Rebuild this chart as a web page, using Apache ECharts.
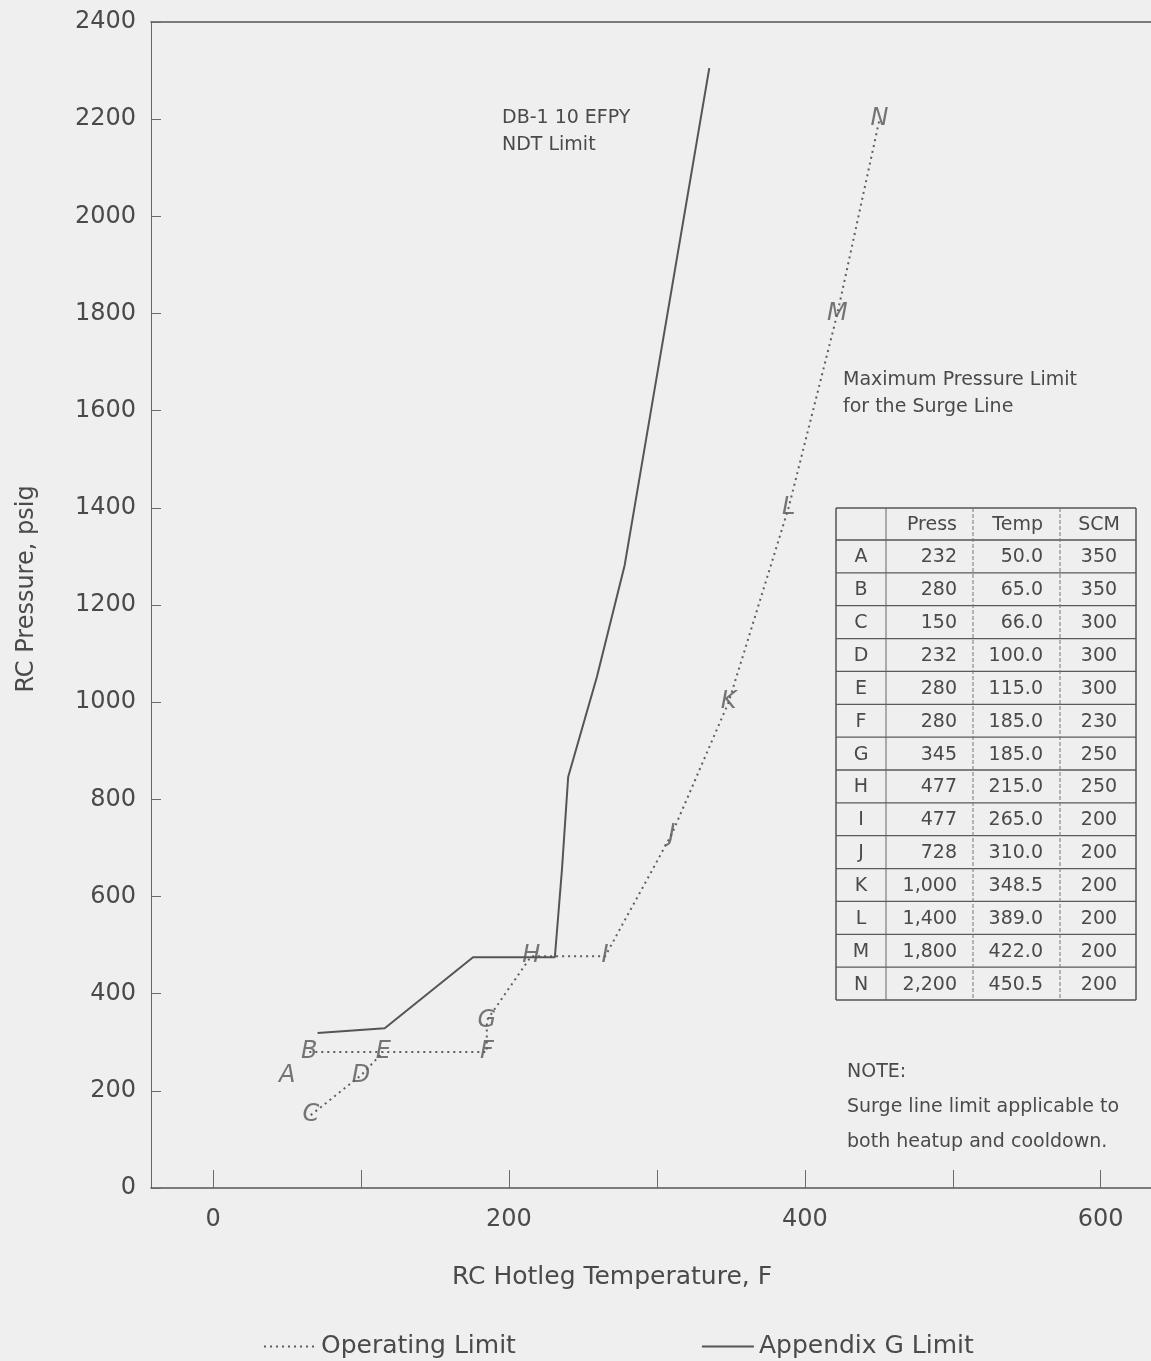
<!DOCTYPE html>
<html>
<head>
<meta charset="utf-8">
<script src="https://cdn.jsdelivr.net/npm/echarts@6/dist/echarts.min.js"></script>
<style>
html,body{margin:0;padding:0;background:#efefef;}
#chart{width:1151px;height:1361px;}
</style>
</head>
<body>
<div id="chart"></div>
<script>
// ---- data ----
const pointNames = ['A','B','C','D','E','F','G','H','I','J','K','L','M','N'];
const pressurePsig = [232,280,150,232,280,280,345,477,477,728,1000,1400,1800,2200];
const temperatureF = [50.0,65.0,66.0,100.0,115.0,185.0,185.0,215.0,265.0,310.0,348.5,389.0,422.0,450.5];
const scmValues = [350,350,300,300,300,230,250,250,200,200,200,200,200,200];
const operatingPathMain = ['B','E','F','G','H','I','J','K','L','M','N'];
const operatingPathLow = ['C','D','E'];
const appendixGTemp = [70.6,116,175.7,231,235.8,240,259.4,278.2,335.4];
const appendixGPress = [319,329,475,475,655,846,1052,1282,2305];
const xTickValues = [0,100,200,300,400,500,600];
const xLabelValues = [0,200,400,600];
const tableHeaders = ['','Press','Temp','SCM'];
const noteNdt = ['DB-1 10 EFPY','NDT Limit'];
const noteSurge = ['Maximum Pressure Limit','for the Surge Line'];
const noteGeneral = ['NOTE:','Surge line limit applicable to','both heatup and cooldown.'];

// ---- helpers ----
const FONT = 'DejaVu Sans';
const TXT = '#4a4a4a';
function pt(name){ const i = pointNames.indexOf(name); return [temperatureF[i], pressurePsig[i]]; }

const graphics = [];
function addText(x, y, text, size, align, extra){
  graphics.push(Object.assign({
    type:'text', silent:true,
    style:{ text:text, x:x, y:y, font: size + 'px ' + FONT, fill:TXT,
            align:align||'left', textAlign:align||'left',
            verticalAlign:'middle', textVerticalAlign:'middle' }
  }, extra||{}));
}
function addLine(x1,y1,x2,y2,color,w,dash){
  graphics.push({ type:'line', silent:true, shape:{x1:x1,y1:y1,x2:x2,y2:y2},
    style:{ stroke:color, lineWidth:w, lineDash: dash||null } });
}

// annotations
noteNdt.forEach((t,i)=>addText(502, 118 + i*27, t, 19, 'left'));
noteSurge.forEach((t,i)=>addText(843, 380 + i*27, t, 19, 'left'));
noteGeneral.forEach((t,i)=>addText(847, 1072 + i*35, t, 19, 'left'));

// table (layout only, values from arrays)
const tLeft = 836, tRight = 1136, tTop = 508, headH = 32, rowH = (1000 - 540) / pointNames.length;
const colX = [tLeft, 886, 973, 1060, tRight];
const tBottom = tTop + headH + rowH * pointNames.length;
addLine(tLeft, tTop, tRight, tTop, '#555', 1.5);
addLine(tLeft, tBottom, tRight, tBottom, '#555', 1.5);
addLine(tLeft, tTop + headH, tRight, tTop + headH, '#555', 1.3);
for (let r = 1; r < pointNames.length; r++) {
  const y = tTop + headH + r * rowH;
  addLine(tLeft, y, tRight, y, '#5a5a5a', 1.3);
}
addLine(tLeft, tTop, tLeft, tBottom, '#555', 1.5);
addLine(tRight, tTop, tRight, tBottom, '#555', 1.5);
addLine(colX[1], tTop, colX[1], tBottom, '#666', 1);
addLine(colX[2], tTop, colX[2], tBottom, '#777', 1, [4,2]);
addLine(colX[3], tTop, colX[3], tBottom, '#777', 1, [4,2]);
const hy = tTop + headH/2 + 1;
addText(957, hy, tableHeaders[1], 19, 'right');
addText(1043, hy, tableHeaders[2], 19, 'right');
addText(1099, hy, tableHeaders[3], 19, 'center');
pointNames.forEach((n, i) => {
  const cy = tTop + headH + rowH * i + rowH/2 + 1;
  addText(861, cy, n, 19, 'center');
  addText(957, cy, pressurePsig[i].toLocaleString('en-US'), 19, 'right');
  addText(1043, cy, temperatureF[i].toFixed(1), 19, 'right');
  addText(1099, cy, String(scmValues[i]), 19, 'center');
});

const chart = echarts.init(document.getElementById('chart'), null, {renderer:'canvas'});
const dotted = { color:'#5e5e5e', width:2, type:[2,4] };

chart.setOption({
  backgroundColor:'#efefef',
  animation:false,
  textStyle:{ fontFamily: FONT, color: TXT },
  grid:{ left:151, right:0, top:22, bottom:173, containLabel:false },
  legend:{
    data:['Operating Limit','Appendix G Limit'],
    left:258, top:1329, itemWidth:52, itemHeight:14, itemGap:185,
    textStyle:{ fontSize:25, color:TXT, fontFamily:FONT },
    itemStyle:{ opacity:0 },
    inactiveColor:'#999'
  },
  xAxis:[{
    type:'value', min:-42, max:634, position:'bottom',
    axisLine:{ show:true, onZero:false, lineStyle:{ color:'#555', width:1.5 } },
    axisTick:{ show:true, inside:true, length:18, customValues:xTickValues, lineStyle:{ color:'#6a6a6a', width:1 } },
    axisLabel:{ customValues:xLabelValues, margin:20, fontSize:24, color:TXT, fontFamily:FONT },
    splitLine:{ show:false },
    name:'RC Hotleg Temperature, F', nameLocation:'middle', nameGap:77,
    nameTextStyle:{ fontSize:25, color:TXT, fontFamily:FONT, padding:[0,78,0,0] }
  },{
    type:'value', min:-42, max:634, position:'top',
    axisLine:{ show:true, onZero:false, lineStyle:{ color:'#555', width:1.5 } },
    axisTick:{ show:false }, axisLabel:{ show:false }, splitLine:{ show:false }
  }],
  yAxis:{
    type:'value', min:0, max:2400, interval:200, position:'left',
    axisLine:{ show:true, onZero:false, lineStyle:{ color:'#666', width:1 } },
    axisTick:{ show:true, inside:true, length:10, lineStyle:{ color:'#6a6a6a' } },
    axisLabel:{ margin:15, fontSize:24, color:TXT, fontFamily:FONT, formatter: v => String(v) },
    splitLine:{ show:false },
    name:'RC Pressure, psig', nameLocation:'middle', nameGap:112,
    nameTextStyle:{ fontSize:24, color:TXT, fontFamily:FONT, padding:[0,0,0,32] }
  },
  series:[
    { name:'Operating Limit', type:'line', symbol:'none', silent:true,
      data: operatingPathMain.map(pt), lineStyle: dotted, itemStyle:{ color:'#5e5e5e' } },
    { name:'Operating Limit', type:'line', symbol:'none', silent:true,
      data: operatingPathLow.map(pt), lineStyle: dotted, itemStyle:{ color:'#5e5e5e' } },
    { name:'Appendix G Limit', type:'line', symbol:'none', silent:true,
      data: appendixGTemp.map((t,i)=>[t, appendixGPress[i]]),
      lineStyle:{ color:'#555', width:2, type:'solid' }, itemStyle:{ color:'#555' } },
    { name:'points', type:'scatter', symbolSize:1, silent:true,
      itemStyle:{ color:'rgba(0,0,0,0)' },
      data: pointNames.map((n,i)=>({ value:[temperatureF[i], pressurePsig[i]], name:n })),
      label:{ show:true, position:'inside', formatter:'{b}', fontSize:24, fontStyle:'italic',
              color:'#555', fontFamily:FONT } }
  ],
  graphic: graphics
});
</script>
</body>
</html>
